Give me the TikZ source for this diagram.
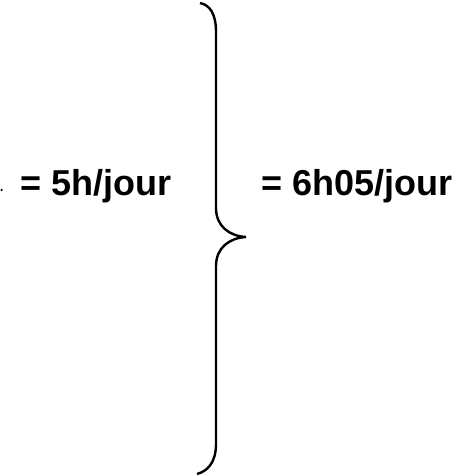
\documentclass[tikz,border=0pt]{standalone}
\usepackage{fontspec}
\setmainfont{Liberation Sans}
\begin{document}
\begin{tikzpicture}[x=1pt, y=-1pt, lbl/.style={inner sep=0pt, anchor=base west, font=\fontsize{36}{40}\selectfont\bfseries}]
\useasboundingbox (0,0) rectangle (461,476);
\node[lbl] (a) at (20,195) {= 5h/jour};
\node[lbl] (b) at (261,195) {= 6h05/jour};
\coordinate (tip) at (246,237);
\fill (1.6,190) circle (1.3);
\draw[line width=2.4pt] (200,3) .. controls (210,5) and (216,14) .. (216,32)
  -- (216,208) .. controls (216,226) and (229,236) .. (tip)
  .. controls (229,238) and (216,248) .. (216,266)
  -- (216,444) .. controls (216,462) and (208,471) .. (197,474);
\end{tikzpicture}
\end{document}
